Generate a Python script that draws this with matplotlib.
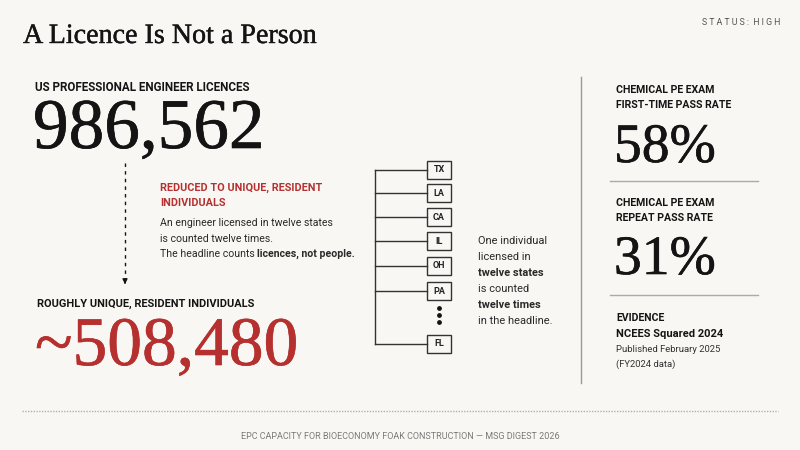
import matplotlib
matplotlib.use("Agg")
import matplotlib.pyplot as plt
import matplotlib.patheffects as pe

# data
licences_total = 986562
unique_individuals = 508480
states = ["TX", "LA", "CA", "IL", "OH", "PA", "FL"]
first_time_pass = 58
repeat_pass = 31
evidence = ["NCEES Squared 2024", "Published February 2025", "(FY2024 data)"]

BG = "#f8f7f4"
RED = "#b5302e"
INK = "#141414"
SERIF = "Liberation Serif"
SANS = "Roboto"

fig = plt.figure(figsize=(8, 4.5), dpi=100, facecolor=BG)
ax = fig.add_axes([0, 0, 1, 1])
ax.set_xlim(0, 800)
ax.set_ylim(450, 0)
ax.axis("off")
ax.set_facecolor(BG)
renderer = fig.canvas.get_renderer()


def runs(x, y, parts, size=7.6, color="#2a2a2a"):
    # draw text pieces one after another on a line, (text, weight)
    for txt, weight in parts:
        t = ax.text(x, y, txt, fontsize=size, family=SANS, fontweight=weight,
                    color=color, va="baseline", ha="left")
        bb = t.get_window_extent(renderer=renderer)
        x += bb.width * 800 / fig.bbox.width


def big(x, y, s, size, color):
    # serif numbers, thickened a little
    ax.text(x, y, s, fontsize=size, family=SERIF, color=color, va="baseline",
            path_effects=[pe.withStroke(linewidth=0.45, foreground=color)])


def label(x, y, s, size=7.6, color=INK):
    ax.text(x, y, s, fontsize=size, family=SANS, fontweight="bold", color=color, va="baseline")


# title and status
ax.text(23, 43, "A Licence Is Not a Person", fontsize=20.2, family=SERIF, color=INK, va="baseline",
        path_effects=[pe.withStroke(linewidth=0.3, foreground=INK)])
ax.text(780, 25, "S T A T U S :  H I G H", fontsize=6.3, family=SANS, color="#555555", ha="right", va="baseline")

# headline number
label(35, 91, "US PROFESSIONAL ENGINEER LICENCES", size=8.4)
big(33, 148, f"{licences_total:,}", 51.3, INK)

# dashed arrow down
ax.plot([125, 125], [163, 279], color=INK, lw=1, ls=(0, (2.5, 3)))
ax.annotate("", xy=(125, 287), xytext=(125, 279),
            arrowprops=dict(arrowstyle="-|>", color=INK, lw=1, mutation_scale=7))

label(160, 191, "REDUCED TO UNIQUE, RESIDENT", size=7.8, color=RED)
label(160, 206, "INDIVIDUALS", size=7.8, color=RED)
runs(160, 226, [("An engineer licensed in twelve states", "normal")])
runs(160, 242, [("is counted twelve times.", "normal")])
runs(160, 257, [("The headline counts ", "normal"), ("licences, not people.", "bold")])

# unique individuals
label(37, 307, "ROUGHLY UNIQUE, RESIDENT INDIVIDUALS", size=7.9)
big(35, 365, f"~{unique_individuals:,}", 50, RED)

# state bracket
box_y = [170, 193, 217, 241, 266, 291, 344]
ax.plot([375, 375], [box_y[0], box_y[-1]], color="#333333", lw=1)
for st, yy in zip(states, box_y):
    ax.plot([375, 427], [yy, yy], color="#333333", lw=1)
    ax.add_patch(plt.Rectangle((427, yy - 9), 24, 18, facecolor=BG, edgecolor="#333333", lw=1))
    ax.text(439, yy, st, fontsize=6.5, family=SANS, fontweight="bold", color="#222222", ha="center", va="center")
ax.scatter([439, 439, 439], [308, 315, 322], s=6, color=INK, zorder=3)

note = [("One individual", "normal"), ("licensed in", "normal"), ("twelve states", "bold"),
        ("is counted", "normal"), ("twelve times", "bold"), ("in the headline.", "normal")]
for i, (txt, w) in enumerate(note):
    runs(478, 244 + i * 16, [(txt, w)], size=7.9)

# right column
ax.plot([581, 581], [77, 383], color="#9a9a9a", lw=1)
label(616, 93, "CHEMICAL PE EXAM")
label(616, 108, "FIRST-TIME PASS RATE")
big(614, 162, f"{first_time_pass}%", 40, INK)
ax.plot([610, 758], [181, 181], color="#aaaaaa", lw=1)
label(616, 206, "CHEMICAL PE EXAM")
label(616, 221, "REPEAT PASS RATE")
big(614, 274, f"{repeat_pass}%", 40, INK)
ax.plot([610, 758], [295, 295], color="#aaaaaa", lw=1)
label(616, 321, "EVIDENCE")
label(616, 337, evidence[0], size=8.0)
ax.text(616, 352, evidence[1], fontsize=6.8, family=SANS, color="#333333", va="baseline")
ax.text(616, 367, evidence[2], fontsize=6.8, family=SANS, color="#333333", va="baseline")

# footer
ax.plot([22, 778], [411, 411], color="#b0b0b0", lw=1, ls=(0, (1, 1)))
ax.text(400, 439, "EPC CAPACITY FOR BIOECONOMY FOAK CONSTRUCTION \u2014 MSG DIGEST 2026",
        fontsize=6.5, family=SANS, color="#7a7a7a", ha="center", va="baseline")

fig.savefig("out.png", dpi=100, facecolor=BG)
